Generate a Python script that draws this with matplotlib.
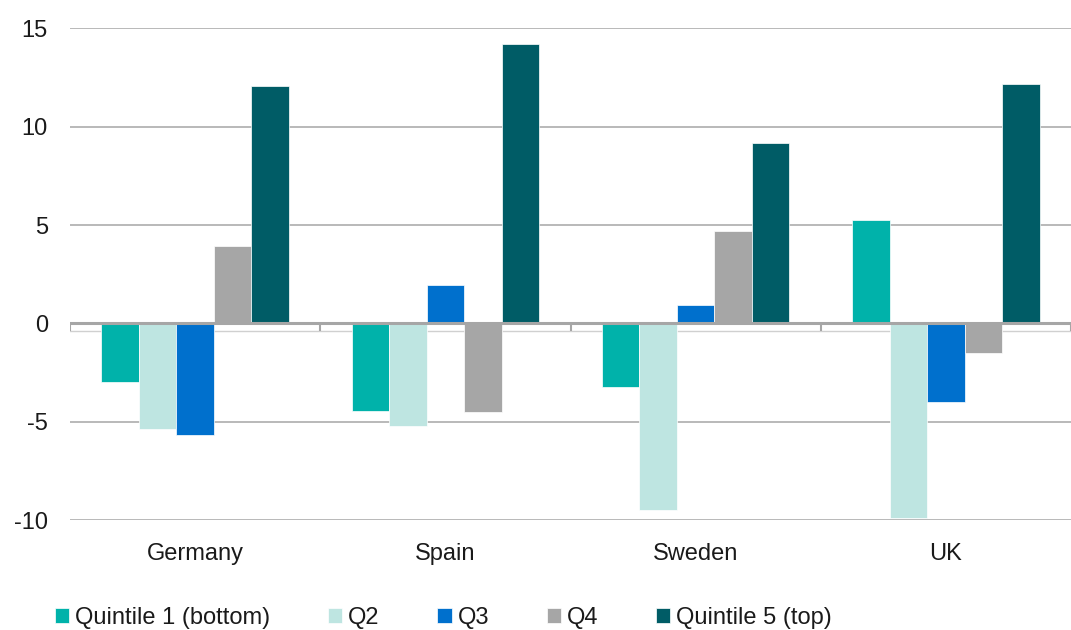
import numpy as np
import matplotlib.pyplot as plt

plt.rcParams['font.family'] = ['Liberation Sans', 'DejaVu Sans']
plt.rcParams['axes.unicode_minus'] = False

countries = ["Germany", "Spain", "Sweden", "UK"]
series_names = ["Quintile 1 (bottom)", "Q2", "Q3", "Q4", "Quintile 5 (top)"]

q1 = [-2.95, -4.43, -3.23, 5.26]
q2 = [-5.36, -5.21, -9.50, -9.89]
q3 = [-5.67, 1.97, 0.92, -3.99]
q4 = [3.92, -4.48, 4.72, -1.50]
q5 = [12.08, 14.20, 9.15, 12.17]

colors = ["#00B2AA", "#BEE5E1", "#0070CD", "#A6A6A6", "#005C66"]


def main():
    fig = plt.figure(figsize=(10.71, 6.30), dpi=100)
    ax = fig.add_axes([70 / 1071, 1 - 520.3 / 630, 1001 / 1071, 492 / 630])

    x = np.arange(len(countries))
    width = 0.15
    for i, (vals, name, col) in enumerate(zip([q1, q2, q3, q4, q5], series_names, colors)):
        ax.bar(x + (i - 2) * width, vals, width, color=col, label=name,
               edgecolor="white", linewidth=0.5, zorder=3)

    ax.set_xlim(-0.5, len(countries) - 0.5)
    ax.set_ylim(-10, 15)
    ax.set_yticks([-10, -5, 0, 5, 10, 15])
    ax.set_xticks(x)
    ax.set_xticklabels(countries)

    # gridlines (no 0 line, the axis line takes that place)
    for v in [-10, -5, 5, 10, 15]:
        ax.axhline(v, color="#ADADAD", linewidth=1.2, zorder=1)
    ax.axhline(0, color="#A6A6A6", linewidth=2.2, zorder=4)
    ax.axhline(-0.38, color="#D0D0D0", linewidth=1.0, zorder=1)
    ax.vlines(np.arange(len(countries) + 1) - 0.5, -0.38, 0, color="#A6A6A6",
              linewidth=1.5, zorder=4)

    for s in ax.spines.values():
        s.set_visible(False)
    ax.tick_params(axis="both", length=0, labelsize=17, colors="#1a1a1a")
    ax.tick_params(axis="x", pad=16)
    ax.tick_params(axis="y", pad=16)

    ax.legend(loc="center left", bbox_to_anchor=(55 / 1071, 1 - 618 / 630),
              bbox_transform=fig.transFigure, ncol=5, frameon=False,
              fontsize=17, handlelength=0.6, handleheight=0.6,
              handletextpad=0.25, columnspacing=2.45, borderaxespad=0,
              borderpad=0)
    for t in ax.get_legend().get_texts():
        t.set_color("#1a1a1a")

    fig.savefig("out.png", dpi=100)


if __name__ == '__main__':
    main()
